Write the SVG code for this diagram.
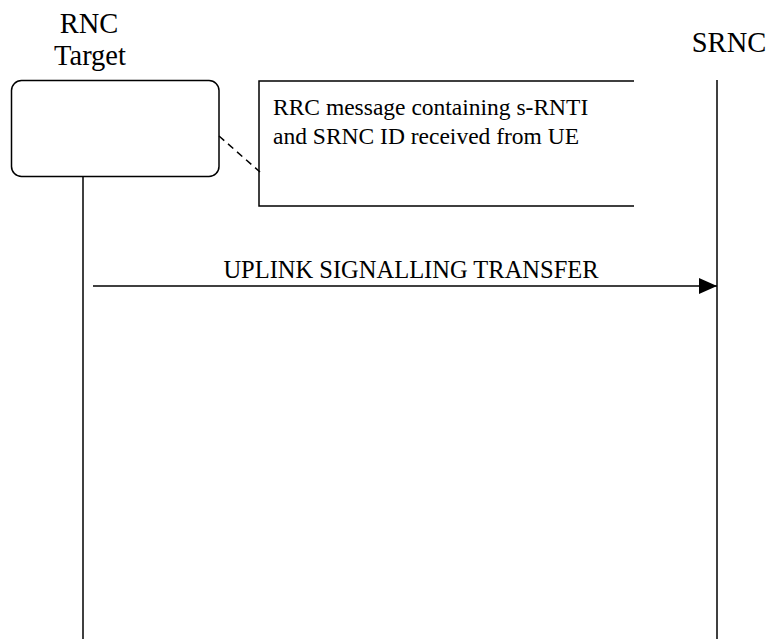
<svg xmlns="http://www.w3.org/2000/svg" width="767" height="639" viewBox="0 0 767 639">
<style>
text{font-family:"Liberation Serif","Times New Roman",serif;fill:#000}
.hd{font-size:28.5px}
.nt{font-size:23.5px}
.tx{font-size:24.5px}
.ln{stroke:#000;stroke-width:1.5;fill:none}
</style>
<defs>
<marker id="ah" markerWidth="18" markerHeight="16" refX="18" refY="8" orient="auto" markerUnits="userSpaceOnUse">
<path d="M0,0 L18,8 L0,16 Z" fill="#000"/>
</marker>
</defs>
<rect width="767" height="639" fill="#fff"/>
<g id="rnc-target">
<text class="hd" x="89" y="33" text-anchor="middle">RNC</text>
<text class="hd" x="90" y="65" text-anchor="middle">Target</text>
<rect class="ln" x="11.5" y="80.5" width="207.5" height="96" rx="10" ry="10"/>
<line class="ln" x1="83" y1="177" x2="83" y2="639"/>
</g>
<g id="srnc">
<text class="hd" x="729" y="52" text-anchor="middle">SRNC</text>
<line class="ln" x1="717" y1="80" x2="717" y2="639"/>
</g>
<g id="note">
<path class="ln" d="M634,81 H259 V206 H634"/>
<text class="nt" x="273" y="115">RRC message containing s-RNTI</text>
<text class="nt" x="273" y="144">and SRNC ID received from UE</text>
</g>
<g id="connectors">
<line class="ln" x1="219" y1="136" x2="260" y2="172" stroke-dasharray="7,5"/>
<line class="ln" x1="93" y1="286" x2="717" y2="286" marker-end="url(#ah)"/>
<text class="tx" x="411" y="278" text-anchor="middle">UPLINK SIGNALLING TRANSFER</text>
</g>
</svg>
